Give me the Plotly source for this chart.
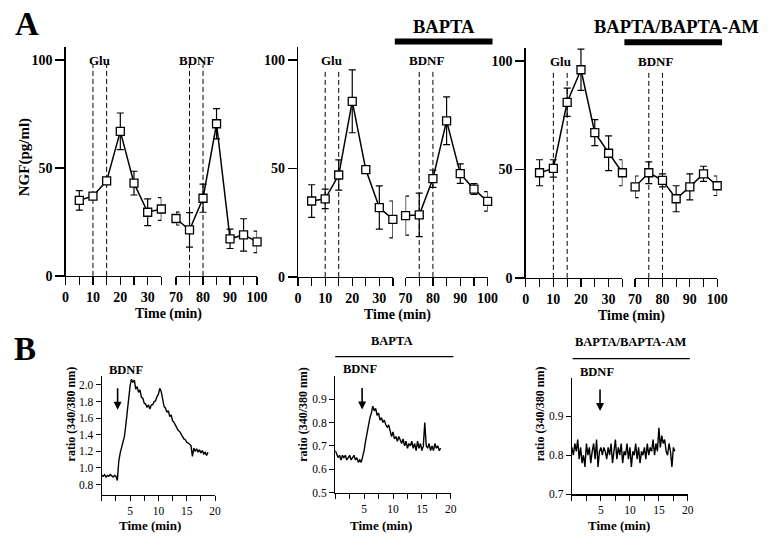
import plotly.graph_objects as go

W, H = 778, 549

# ---------------- Panel A data (NGF, pg/ml) ----------------
a_left_t = [5, 10, 15, 20, 25, 30, 35]
a_right_t = [70, 75, 80, 85, 90, 95, 100]

a1_left = [35, 37, 44, 67, 43, 29.5, 31]
a1_left_err = [4.5, 1.5, 1.5, 8.5, 5.5, 6.2, 5.3]
a1_right = [26.6, 21.3, 36, 70.5, 17.2, 19, 15.8]
a1_right_err = [3, 8, 6.5, 7, 4.5, 7.5, 5]

a2_left = [35, 36, 47, 81, 49.5, 32, 26.5]
a2_left_err = [7.5, 4.5, 7, 14.5, 1, 10, 8.5]
a2_right = [28.3, 28.6, 45.3, 72, 47.6, 40.5, 34.8]
a2_right_err = [9, 10, 4, 11, 4.5, 2.5, 4.5]

a3_left = [48.5, 50.5, 81, 96, 67, 57.5, 48.5]
a3_left_err = [6, 4, 6.5, 9.5, 6, 8, 6]
a3_right = [42, 48.5, 45, 36.5, 42, 48, 42.5]
a3_right_err = [5, 5, 3, 6, 6, 3.5, 4.5]

glu_t = [10, 15]
bdnf_t = [75, 80]

a_left_ticks = [0, 5, 10, 15, 20, 25, 30, 35]
a_left_labels = ["0", "", "10", "", "20", "", "30", ""]
a_right_ticks = [70, 75, 80, 85, 90, 95, 100]
a_right_labels = ["70", "", "80", "", "90", "", "100"]
a_y_ticks = [0, 50, 100]
a_y_labels = ["0", "50", "100"]

# ---------------- Panel B data (ratio 340/380 nm) ----------------
trace_t = [0.0, 0.25, 0.5, 0.75, 1.0, 1.25, 1.5, 1.75, 2.0, 2.25, 2.5, 2.75,
           3.0, 3.25, 3.5, 3.75, 4.0, 4.25, 4.5, 4.75, 5.0, 5.25, 5.5, 5.75,
           6.0, 6.25, 6.5, 6.75, 7.0, 7.25, 7.5, 7.75, 8.0, 8.25, 8.5, 8.75,
           9.0, 9.25, 9.5, 9.75, 10.0, 10.25, 10.5, 10.75, 11.0, 11.25, 11.5, 11.75,
           12.0, 12.25, 12.5, 12.75, 13.0, 13.25, 13.5, 13.75, 14.0, 14.25, 14.5, 14.75,
           15.0, 15.25, 15.5, 15.75, 16.0, 16.25, 16.5, 16.75, 17.0, 17.25, 17.5, 17.75,
           18.0, 18.25, 18.5, 18.75]

b1_ratio = [0.91, 0.90, 0.92, 0.89, 0.91, 0.90, 0.92, 0.90, 0.89, 0.91, 0.90, 0.85,
            1.08, 1.18, 1.26, 1.31, 1.38, 1.52, 1.70, 1.86, 1.99, 2.07, 2.03, 2.06,
            1.95, 1.98, 1.91, 1.94, 1.85, 1.84, 1.78, 1.77, 1.73, 1.76, 1.71, 1.76,
            1.76, 1.80, 1.81, 1.86, 1.89, 1.96, 1.92, 1.83, 1.74, 1.72, 1.67, 1.69,
            1.62, 1.64, 1.57, 1.55, 1.51, 1.49, 1.45, 1.44, 1.41, 1.39, 1.35, 1.34,
            1.31, 1.30, 1.28, 1.27, 1.14, 1.24, 1.20, 1.23, 1.19, 1.22, 1.18, 1.21,
            1.17, 1.19, 1.15, 1.19]

b2_ratio = [0.68, 0.66, 0.65, 0.66, 0.64, 0.66, 0.65, 0.66, 0.64, 0.65, 0.66, 0.64,
            0.65, 0.66, 0.64, 0.65, 0.63, 0.64, 0.63, 0.65, 0.68, 0.72, 0.76, 0.79,
            0.82, 0.84, 0.87, 0.85, 0.86, 0.83, 0.84, 0.81, 0.82, 0.80, 0.81, 0.79,
            0.78, 0.79, 0.76, 0.74, 0.76, 0.73, 0.74, 0.72, 0.74, 0.72, 0.71, 0.73,
            0.70, 0.72, 0.69, 0.71, 0.70, 0.72, 0.69, 0.71, 0.68, 0.72, 0.69, 0.71,
            0.68, 0.70, 0.80, 0.70, 0.69, 0.71, 0.68, 0.70, 0.68, 0.71, 0.69, 0.70,
            0.68, 0.69]

b3_ratio = [0.82, 0.80, 0.83, 0.81, 0.84, 0.79, 0.82, 0.78, 0.80, 0.77,
            0.83, 0.80, 0.82, 0.78, 0.81, 0.83, 0.79, 0.84, 0.77, 0.81,
            0.82, 0.80, 0.82, 0.81, 0.79, 0.82, 0.80, 0.83, 0.78, 0.81,
            0.84, 0.79, 0.82, 0.80, 0.83, 0.78, 0.81, 0.80, 0.83, 0.79,
            0.82, 0.77, 0.81, 0.80, 0.83, 0.79, 0.82, 0.78, 0.81, 0.80,
            0.82, 0.79, 0.83, 0.80, 0.82, 0.81, 0.84, 0.80, 0.83, 0.81,
            0.87, 0.82, 0.85, 0.83, 0.84, 0.81, 0.80, 0.83, 0.81, 0.77,
            0.82, 0.81]

b_x_ticks = [0, 2.5, 5, 7.5, 10, 12.5, 15, 17.5, 20]
b_x_labels = ["", "", "5", "", "10", "", "15", "", "20"]
b1_y_ticks = [0.8, 1.0, 1.2, 1.4, 1.6, 1.8, 2.0]
b2_y_ticks = [0.5, 0.6, 0.7, 0.8, 0.9]
b3_y_ticks = [0.7, 0.8, 0.9]

bdnf_arrow_t = [2.8, 4.65, 4.85]
bdnf_arrow_tip = [1.70, 0.855, 0.913]

# ---------------- helpers ----------------
FONT = "Liberation Serif, Times New Roman, serif"


def fx(p):
    return p / W


def fy(p):
    return 1 - p / H


def aname(letter, k):
    return letter if k == 1 else f"{letter}{k}"


def lname(letter, k):
    return f"{letter}axis" if k == 1 else f"{letter}axis{k}"


def bold(s):
    return f"<b>{s}</b>" if s else ""


def ptext(text, x, y, size, angle=0, weight="bold"):
    return dict(text=text, xref="paper", yref="paper", x=fx(x), y=fy(y),
                xanchor="center", yanchor="middle", textangle=angle,
                showarrow=False, font=dict(size=size, weight=weight))


fig = go.Figure()
layout = dict(
    width=W, height=H,
    margin=dict(l=0, r=0, t=0, b=0),
    paper_bgcolor="white", plot_bgcolor="white",
    showlegend=False,
    font=dict(family=FONT, color="black"),
)
shapes = []
annotations = []

axis_common = dict(showline=True, linecolor="black", showgrid=False,
                   zeroline=False, ticks="outside", tickcolor="black",
                   fixedrange=True)

# ---------------- Panel A ----------------
A_YMAX = 106
a_geom = [  # y-axis px, left end px, right start px, right end px, y=0 px, y=100 px
    (60, 158, 173, 256, 280, 61),
    (298, 395, 408, 492, 281, 61),
    (531, 630, 643, 727, 282, 62),
]
a_data = [
    (a1_left, a1_left_err, a1_right, a1_right_err),
    (a2_left, a2_left_err, a2_right, a2_right_err),
    (a3_left, a3_left_err, a3_right, a3_right_err),
]
dash_tops = [98, 95, 95]
time_title_pos = [(165, 319), (400, 320), (639, 321)]

afont_tick = dict(family=FONT, size=14, color="black")

for i, (g, d) in enumerate(zip(a_geom, a_data)):
    x0, lend, rstart, rend, y0, y100 = g
    kl, kr, ky = 2 * i + 1, 2 * i + 2, i + 1
    ytop = y0 - A_YMAX * (y0 - y100) / 100
    ydom = [fy(y0), fy(ytop)]
    layout[lname("x", kl)] = dict(axis_common, domain=[fx(x0), fx(lend)], range=[0, 35],
                                  anchor=aname("y", ky), tickvals=a_left_ticks,
                                  ticktext=[bold(s) for s in a_left_labels],
                                  ticklen=8, tickwidth=1.3,
                                  linewidth=1.3, tickfont=afont_tick)
    layout[lname("x", kr)] = dict(axis_common, domain=[fx(rstart), fx(rend)], range=[70, 100],
                                  anchor=aname("y", ky), tickvals=a_right_ticks,
                                  ticktext=[bold(s) for s in a_right_labels],
                                  ticklen=8, tickwidth=1.3,
                                  linewidth=1.3, tickfont=afont_tick)
    layout[lname("y", ky)] = dict(axis_common, domain=ydom, range=[0, A_YMAX],
                                  anchor=aname("x", kl), tickvals=a_y_ticks,
                                  ticktext=[bold(s) for s in a_y_labels],
                                  ticklen=9, tickwidth=1.3, linewidth=1.3,
                                  tickfont=afont_tick)
    lv, le, rv, re_ = d
    for xs, ys, es, k in [(a_left_t, lv, le, kl), (a_right_t, rv, re_, kr)]:
        fig.add_trace(go.Scatter(
            x=xs, y=ys, mode="lines+markers",
            xaxis=aname("x", k), yaxis=aname("y", ky),
            line=dict(color="black", width=1.5),
            marker=dict(symbol="square", size=8, color="white",
                        line=dict(color="black", width=1.3)),
            error_y=dict(type="data", array=es, visible=True, color="black",
                         thickness=1.2, width=3.5),
            cliponaxis=False, hoverinfo="skip"))
    for t in glu_t:
        shapes.append(dict(type="line", xref=aname("x", kl), yref=aname("y", ky),
                           x0=t, x1=t, y0=0, y1=dash_tops[i], layer="below",
                           line=dict(color="black", width=1, dash="5px,3px")))
    for t in bdnf_t:
        shapes.append(dict(type="line", xref=aname("x", kr), yref=aname("y", ky),
                           x0=t, x1=t, y0=0, y1=dash_tops[i], layer="below",
                           line=dict(color="black", width=1, dash="5px,3px")))
    annotations.append(dict(text="Glu", xref=aname("x", kl), yref=aname("y", ky),
                            x=sum(glu_t) / 2, y=100, showarrow=False,
                            xanchor="center", yanchor="middle",
                            font=dict(size=13, weight="bold")))
    annotations.append(dict(text="BDNF", xref=aname("x", kr), yref=aname("y", ky),
                            x=sum(bdnf_t) / 2, y=100, showarrow=False,
                            xanchor="center", yanchor="middle",
                            font=dict(size=13, weight="bold")))
    tx, ty = time_title_pos[i]
    annotations.append(ptext("Time (min)", tx, ty, 14))

annotations.append(ptext("NGF(pg/ml)", 18, 160, 15, angle=-90))
annotations.append(ptext("A", 20, 24, 33))
annotations.append(ptext("B", 18, 354, 33))

# treatment bars (A)
shapes.append(dict(type="line", xref="paper", yref="paper", x0=fx(397), x1=fx(497),
                   y0=fy(42), y1=fy(42), line=dict(color="black", width=6)))
shapes.append(dict(type="line", xref="paper", yref="paper", x0=fx(632), x1=fx(732),
                   y0=fy(43), y1=fy(43), line=dict(color="black", width=6)))
annotations.append(ptext("BAPTA", 447, 27, 18.5))
annotations.append(ptext("BAPTA/BAPTA-AM", 685.5, 27, 18.5))

# ---------------- Panel B ----------------
b_geom = [  # x0 px, x1 px, bottom px, top px, y range
    (97, 213, 502, 382, [0.678, 2.103]),
    (336, 454.3, 500, 381.7, [0.5, 0.998]),
    (578.3, 697, 501.7, 383.3, [0.7, 0.998]),
]
b_series = [b1_ratio, b2_ratio, b3_ratio]
b_yticks = [b1_y_ticks, b2_y_ticks, b3_y_ticks]
b_ytitle_x = [65, 303, 545]
b_xtitle_x = [146, 383, 627]
b_bdnf_lbl = [(122, 375), (361, 374), (604, 377)]
bfont_tick = dict(family=FONT, size=11.5, color="black")

for j in range(3):
    x0, x1, yb, yt, yr = b_geom[j]
    kx, ky = 7 + j, 4 + j
    layout[lname("x", kx)] = dict(axis_common, domain=[fx(x0), fx(x1)], range=[0, 20],
                                  anchor=aname("y", ky), tickvals=b_x_ticks,
                                  ticktext=b_x_labels, ticklen=5, tickwidth=1,
                                  linewidth=1.2, tickfont=bfont_tick)
    layout[lname("y", ky)] = dict(axis_common, domain=[fy(yb), fy(yt)], range=yr,
                                  anchor=aname("x", kx), tickvals=b_yticks[j],
                                  tickformat=".1f", ticklen=5, tickwidth=1,
                                  linewidth=1.2, tickfont=bfont_tick)
    vals = b_series[j]
    fig.add_trace(go.Scatter(x=trace_t[:len(vals)], y=vals, mode="lines",
                             xaxis=aname("x", kx), yaxis=aname("y", ky),
                             line=dict(color="black", width=1.4),
                             cliponaxis=False, hoverinfo="skip"))
    annotations.append(dict(text="", xref=aname("x", kx), yref=aname("y", ky),
                            x=bdnf_arrow_t[j], y=bdnf_arrow_tip[j], showarrow=True,
                            ax=0, ay=-23, arrowhead=2, arrowsize=1, arrowwidth=1.6,
                            arrowcolor="black", standoff=0))
    lx, ly = b_bdnf_lbl[j]
    annotations.append(ptext("BDNF", lx, ly, 12.5))
    annotations.append(ptext("ratio (340/380 nm)", b_ytitle_x[j], 420, 12, angle=-90))
    annotations.append(ptext("Time (min)", b_xtitle_x[j], 533, 13))

# treatment lines (B)
shapes.append(dict(type="line", xref="paper", yref="paper", x0=fx(336), x1=fx(457),
                   y0=fy(362), y1=fy(362), line=dict(color="black", width=1.3)))
shapes.append(dict(type="line", xref="paper", yref="paper", x0=fx(579), x1=fx(699),
                   y0=fy(364), y1=fy(364), line=dict(color="black", width=1.3)))
annotations.append(ptext("BAPTA", 394, 346, 12.5))
annotations.append(ptext("BAPTA/BAPTA-AM", 639, 347, 12.5))

layout["shapes"] = shapes
layout["annotations"] = annotations
fig.update_layout(**layout)
fig.write_html("out.html",
               config={"displayModeBar": False, "staticPlot": True},
               post_script="document.body.style.margin='0';"
                           "document.body.style.overflow='hidden';")
